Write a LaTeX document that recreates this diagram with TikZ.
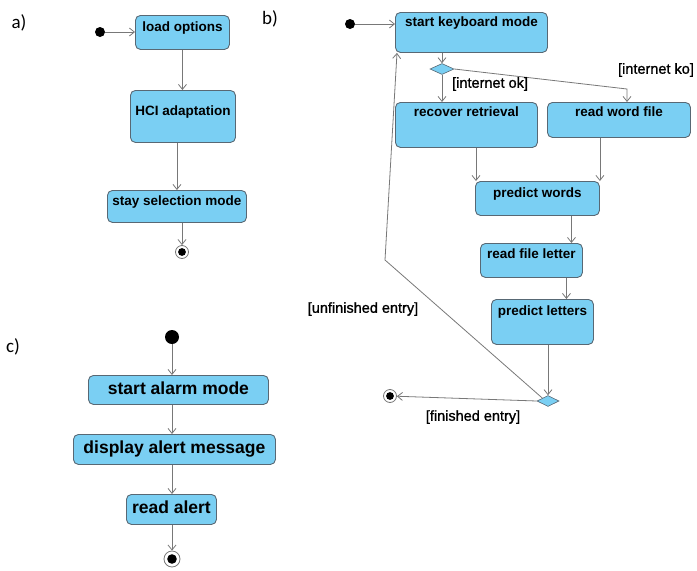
\documentclass[tikz,border=0pt]{standalone}
\usepackage{fontspec}
\setmainfont{Liberation Sans}
\newfontfamily\panelfont{Carlito}
\newfontfamily\guardfont{Liberation Sans}[FakeBold=1.2]
\usetikzlibrary{calc,positioning,arrows.meta,shapes.geometric}
\definecolor{actfill}{RGB}{122,207,243}
\definecolor{actline}{RGB}{88,104,116}
\definecolor{flowgray}{RGB}{120,120,120}
\tikzset{
  activity/.style={rectangle,rounded corners=5pt,draw=actline,fill=actfill,line width=0.9pt,
    inner xsep=0pt,inner ysep=0pt,anchor=north west,
    font=\fontsize{13.5}{14}\selectfont\bfseries},
  big activity/.style={activity,font=\fontsize{17.5}{18}\selectfont\bfseries},
  decision/.style={diamond,draw=actline,fill=actfill,line width=0.6pt,inner sep=0pt,
    minimum width=24pt,minimum height=11pt},
  start dot/.style={circle,fill=black,inner sep=0pt,minimum size=#1},
  end dot/.style={circle,draw=flowgray,fill=white,line width=0.8pt,inner sep=0pt,minimum size=#1,
    path picture={\fill[black] (path picture bounding box.center) circle[radius=0.3*#1];}},
  flow/.style={draw=flowgray,line width=0.8pt,-{Straight Barb[length=5pt,width=8pt]}},
  guard/.style={inner sep=0pt,font=\guardfont\fontsize{14.5}{15}\selectfont},
  panel/.style={inner sep=0pt,font=\panelfont\fontsize{19}{20}\selectfont}
}

\begin{document}
\begin{tikzpicture}[x=1pt,y=-1pt]
\useasboundingbox (0,0) rectangle (697,571);

\node[panel] (pa) at (19,23) {a)};
\node[start dot=10pt] (ia) at (100,32) {};
\node[activity,minimum width=94pt,text height=16pt,text depth=18pt] (load) at (135,15) {load options};
\node[activity,minimum width=105pt,text height=25pt,text depth=27pt] (hci) at (130,90) {HCI adaptation};
\node[activity,minimum width=139pt,text height=15pt,text depth=17pt] (stay) at (107,190) {stay selection mode};
\node[end dot=13pt] (fa) at (182,252) {};
\draw[flow] (ia) -- (ia -| load.west);
\draw[flow] (load) -- (load |- hci.north);
\draw[flow] (stay.north |- hci.south) -- (stay.north);
\draw[flow] (fa |- stay.south) -- (fa);

\node[panel] (pb) at (270,19) {b)};
\node[start dot=10pt] (ib) at (350,24) {};
\node[activity,minimum width=152pt,text height=14pt,text depth=26pt] (start) at (395,12) {start keyboard mode};
\node[decision] (d1) at (442,69) {};
\node[activity,minimum width=142pt,text height=14pt,text depth=31pt] (recover) at (395,102) {recover retrieval};
\node[activity,minimum width=143pt,text height=14pt,text depth=21pt] (readword) at (547,102) {read word file};
\node[activity,minimum width=124pt,text height=16pt,text depth=18pt] (pw) at (475,181) {predict words};
\node[activity,minimum width=102pt,text height=15pt,text depth=19pt] (rfl) at (480,243) {read file letter};
\node[activity,minimum width=102pt,text height=16pt,text depth=29pt] (pl) at (491,299) {predict letters};
\node[decision,minimum width=22pt] (d2) at (548,401) {};
\node[end dot=13pt] (fb) at (390,396) {};
\coordinate (ko) at (627,89);
\coordinate (back) at (385,260);
\draw[flow] (ib) -- (ib -| start.west);
\draw[flow] (d1 |- start.south) -- (d1);
\draw[flow] (d1) -- (d1 |- recover.north);
\draw[flow] (d1.east) -- (ko) -- (ko |- readword.north);
\draw[flow] ([xshift=1pt]pw.north west |- recover.south) -- ([xshift=1pt]pw.north west);
\draw[flow] (pw.north east |- readword.south) -- (pw.north east);
\draw[flow] ([xshift=40pt]rfl.north |- pw.south) -- ([xshift=40pt]rfl.north);
\draw[flow] ([xshift=24pt]pl.north |- rfl.south) -- ([xshift=24pt]pl.north);
\draw[flow] (d2 |- pl.south) -- (d2.north);
\draw[flow] (d2.west) -- (fb);
\draw[flow] (d2.north west) -- (back) -- ([xshift=2pt]start.south west);
\node[guard,anchor=west] (gok) at (452,84) {[internet ok]};
\node[guard] (gko) at (656,70) {[internet ko]};
\node[guard] (gun) at (363,309) {[unfinished entry]};
\node[guard] (gfin) at (473,417) {[finished entry]};

\node[panel] (pc) at (13,347) {c)};
\node[start dot=14pt] (ic) at (172,337) {};
\node[big activity,minimum width=180pt,text height=19pt,text depth=10pt] (sam) at (88,375) {start alarm mode};
\node[big activity,minimum width=202pt,text height=19pt,text depth=11pt] (dam) at (73,434) {display alert message};
\node[big activity,minimum width=90pt,text height=19pt,text depth=11pt] (ra) at (126,494) {read alert};
\node[end dot=16pt] (fc) at (172,559) {};
\draw[flow] (ic) -- (ic |- sam.north);
\draw[flow] (ic |- sam.south) -- (ic |- dam.north);
\draw[flow] (ic |- dam.south) -- (ic |- ra.north);
\draw[flow] (ic |- ra.south) -- (fc);
\end{tikzpicture}
\end{document}
